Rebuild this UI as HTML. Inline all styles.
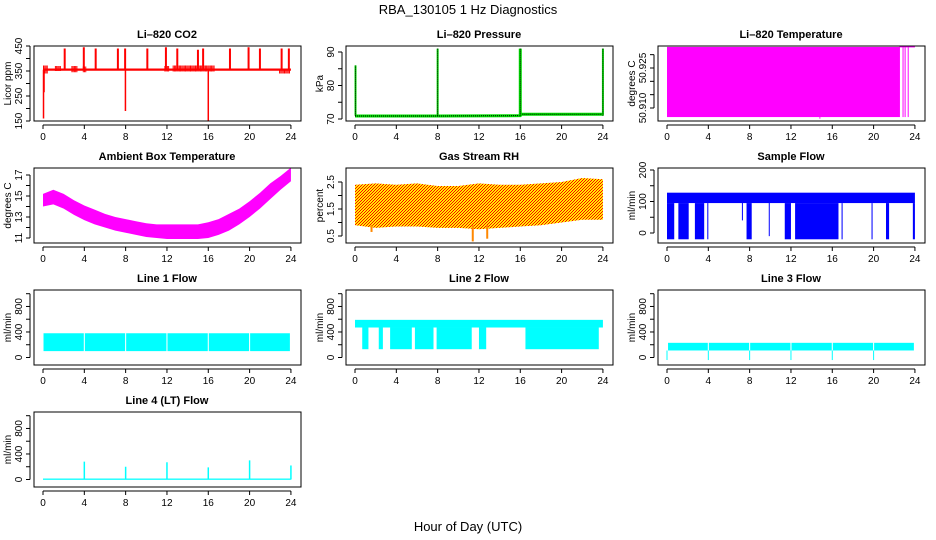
<!DOCTYPE html>
<html><head><meta charset="utf-8"><style>
body{margin:0;background:#fff}
svg{display:block;font-family:"Liberation Sans",Arial,sans-serif}
</style></head><body>
<svg id="chart" width="936" height="540" viewBox="0 0 936 540">
<defs>
<pattern id="rhpat" width="3" height="3" patternUnits="userSpaceOnUse">
<rect width="3" height="3" fill="#ffee00"/>
<rect x="0" y="0" width="1" height="1" fill="#ff0000"/>
<rect x="2" y="1" width="1" height="1" fill="#ff0000"/>
<rect x="1" y="2" width="1" height="1" fill="#ff0000"/>
</pattern>
</defs>
<text x="468" y="14" text-anchor="middle" font-size="13">RBA_130105  1 Hz Diagnostics</text>
<text x="468" y="531" text-anchor="middle" font-size="13">Hour of Day (UTC)</text>
</svg>
<script>
// ---- data arrays ----
const hourTicks = [0,4,8,12,16,20,24];
const co2Base = [351,360];
const co2UpSpikes = [2.1,3.95,5.1,7.25,7.95,10.1,11.9,13.0,15.0,15.5,18.1,19.9,21.0,23.1,23.8];
const co2UpVals = [440,445,440,440,440,440,445,440,435,440,440,445,440,440,440];
const co2DownSpikes = [0.05,0.1,7.98,16.0];
const co2DownVals = [160,265,190,150];
const co2Busy = [[0.05,0.5,340,372],[1.2,1.8,350,370],[2.8,3.4,345,370],[3.9,4.2,345,368],[11.8,12.2,348,370],[12.6,16.6,348,372],[22.9,23.9,340,358]];
const presBaseH = [0,8,16,16.1,24];
const presBaseV = [70.9,70.9,71.0,71.4,71.4];
const presSpikeH = [0.05,8.0,16.0,24.0];
const presSpikeV = [86,91,91,91];
const tempFill = [0,22.55,50.9066,50.9329];
const tempLines = [22.85,23.05,23.35];
const ambH = [0,1,2,3,4,5,6,7,8,9,10,11,12,13,14,15,16,17,18,19,20,21,22,23,24];
const ambLo = [14.0,14.2,13.8,13.2,12.7,12.3,12.0,11.7,11.5,11.3,11.1,11.0,10.9,10.9,10.9,10.9,11.0,11.3,11.7,12.3,13.0,13.8,14.7,15.6,16.4];
const ambHi = [15.2,15.6,15.2,14.6,14.1,13.7,13.3,13.0,12.8,12.6,12.4,12.3,12.3,12.3,12.3,12.3,12.5,12.8,13.3,13.8,14.5,15.3,16.2,16.9,17.7];
const rhH = [0,2,4,6,8,10,12,14,16,18,20,22,24];
const rhLo = [0.9,0.8,0.85,0.85,0.8,0.8,0.75,0.8,0.85,0.9,1.0,1.1,1.1];
const rhHi = [2.4,2.45,2.4,2.45,2.35,2.35,2.45,2.4,2.4,2.45,2.5,2.65,2.6];
const rhDips = [[11.4,0.3],[12.8,0.4],[1.6,0.65]];
const sfBand = [95,128];
const sfDrops = [[0,0.7],[1.1,2.1],[2.7,3.6],[3.9,4.0],[7.7,8.2],[11.4,12.0],[12.4,16.6],[16.9,17.0],[19.8,19.9],[21.2,21.5],[23.8,24]];
const l1Segs = [[0.05,3.95],[4.05,7.95],[8.05,11.95],[12.05,15.95],[16.05,19.95],[20.05,23.9]];
const l1Range = [100,380];
const l2Top = [0,24,470,590];
const l2Lower = [[0.7,1.3],[2.3,2.7],[3.4,5.5],[5.8,7.6],[7.9,11.3],[12.0,12.7],[16.5,23.6]];
const l2LowVal = 130;
const l3Segs = [[0.1,3.95],[4.05,7.95],[8.05,11.95],[12.05,15.95],[16.05,19.95],[20.05,23.9]];
const l3Range = [110,230];
const l3Spikes = [0,4,8,12,16,20];
const l4SpikeH = [4.0,8.0,12.0,16.0,20.0,24.0];
const l4SpikeV = [280,200,270,190,300,220];

const svg = document.getElementById('chart');
const NS = 'http://www.w3.org/2000/svg';
function mk(tag, attrs, parent){const e=document.createElementNS(NS,tag);for(const k in attrs)e.setAttribute(k,attrs[k]);(parent||svg).appendChild(e);return e;}

function panel(col,row,title,ylab,yticks,ylabels,ymap,name){
  const x0=col*312, top=46+row*122, bot=121+row*122;
  const g=mk('g',{});
  
  
  const xs=h=>x0+43+h*10.33;
  const ys=v=>row*122+ymap(v);
  const t=mk('text',{x:x0+167,y:top-8,'text-anchor':'middle','font-size':'11','font-weight':'bold'},g);
  t.textContent=title;
  
  
  const plot=mk('g',{},g);
  
  
  const box=mk('rect',{x:x0+34,y:top,width:267,height:bot-top,fill:'none',stroke:'#000','stroke-width':1},g);
  
  
  const xa=mk('g',{},g);
  
  
  mk('line',{x1:xs(0),x2:xs(24),y1:bot+4,y2:bot+4,stroke:'#000'},xa);
  hourTicks.forEach(h=>{mk('line',{x1:xs(h),x2:xs(h),y1:bot+4,y2:bot+8,stroke:'#000'},xa);
    const l=mk('text',{x:xs(h),y:bot+19,'text-anchor':'middle','font-size':'10'},xa);l.textContent=h;});
  const ya=mk('g',{},g);
  
  
  mk('line',{x1:x0+30,x2:x0+30,y1:ys(yticks[0]),y2:ys(yticks[yticks.length-1]),stroke:'#000'},ya);
  yticks.forEach(v=>mk('line',{x1:x0+26,x2:x0+30,y1:ys(v),y2:ys(v),stroke:'#000'},ya));
  ylabels.forEach(v=>{const y=ys(parseFloat(v));const l=mk('text',{x:x0+22,y:y,'text-anchor':'middle','font-size':'10',transform:`rotate(-90 ${x0+22} ${y})`},ya);l.textContent=v;});
  const yl=mk('text',{x:x0+11,y:(top+bot)/2,'text-anchor':'middle','font-size':'10',transform:`rotate(-90 ${x0+11} ${(top+bot)/2})`},g);
  yl.textContent=ylab;
  
  
  return {g:plot,xs,ys};
}
function rectV(p,h1,h2,v1,v2,fill){const y1=p.ys(v1),y2=p.ys(v2);return mk('rect',{x:p.xs(h1),y:Math.min(y1,y2),width:Math.max(1,p.xs(h2)-p.xs(h1)),height:Math.max(1,Math.abs(y2-y1)),fill:fill},p.g);}
function vline(p,h,v1,v2,col,w){return mk('line',{x1:p.xs(h),x2:p.xs(h),y1:p.ys(v1),y2:p.ys(v2),stroke:col,'stroke-width':w||1},p.g);}
function band(p,H,L,U,fill){let pts=H.map((h,i)=>p.xs(h)+','+p.ys(U[i]));for(let i=H.length-1;i>=0;i--)pts.push(p.xs(H[i])+','+p.ys(L[i]));return mk('polygon',{points:pts.join(' '),fill:fill},p.g);}

// CO2
let p=panel(0,0,'Li\u2013820 CO2','Licor ppm',[150,200,250,300,350,400,450],['150','250','350','450'],v=>121-(v-150)*0.25,'co2');
rectV(p,0,24,co2Base[0],co2Base[1],'#ff0000');
co2Busy.forEach(b=>{for(let h=b[0];h<b[1];h+=0.12){vline(p,h,b[2],b[3],'#ff0000',1);}});
co2UpSpikes.forEach((h,i)=>vline(p,h,355,co2UpVals[i],'#ff0000',2));
co2DownSpikes.forEach((h,i)=>vline(p,h,355,co2DownVals[i],'#ff0000',1.5));
// Pressure
p=panel(1,0,'Li\u2013820 Pressure','kPa',[70,75,80,85,90],['70','80','90'],v=>119-(v-70)*3.35,'pressure');
let pp=presBaseH.map((h,i)=>p.xs(h)+','+p.ys(presBaseV[i])).join(' ');
mk('polyline',{points:pp,fill:'none',stroke:'#00dd00','stroke-width':3},p.g);
mk('polyline',{points:pp,fill:'none',stroke:'#000','stroke-width':1,'stroke-dasharray':'1,1'},p.g);
presSpikeH.forEach((h,i)=>{vline(p,h,71,presSpikeV[i],'#00dd00',i==2?3:2);vline(p,h,71,presSpikeV[i],'#000',1).setAttribute('stroke-dasharray','1,1');});
// Li temp
p=panel(2,0,'Li\u2013820 Temperature','degrees C',[50.91,50.915,50.92,50.925,50.93],['50.910','50.925'],v=>108-(v-50.910)*2667,'li820-temp');
rectV(p,tempFill[0],tempFill[1],tempFill[2],tempFill[3],'#ff00ff');
tempLines.forEach(h=>vline(p,h,tempFill[2],tempFill[3],'#ff00ff',1));
vline(p,14.8,tempFill[2],50.906,'#ff00ff',1);
mk('line',{x1:p.xs(22.5),x2:p.xs(24),y1:p.ys(tempFill[3]),y2:p.ys(tempFill[3]),stroke:'#ff00ff'},p.g);
// Ambient
p=panel(0,1,'Ambient Box Temperature','degrees C',[11,12,13,14,15,16,17],['11','13','15','17'],v=>116-(v-11)*10.5,'ambient-temp');
band(p,ambH,ambLo,ambHi,'#ff00ff');
// RH
p=panel(1,1,'Gas Stream RH','percent',[0.5,1,1.5,2,2.5],['0.5','1.5','2.5'],v=>114-(v-0.5)*27,'gas-rh');
band(p,rhH,rhLo,rhHi,'url(#rhpat)');
rhDips.forEach(d=>vline(p,d[0],0.9,d[1],'#ff8800',2));
// Sample flow
p=panel(2,1,'Sample Flow','ml/min',[0,50,100,150,200],['0','100','200'],v=>111-v*0.315,'sample-flow');
rectV(p,0,24,sfBand[0],sfBand[1],'#0000ff');
sfDrops.forEach(d=>rectV(p,d[0],d[1],-20,sfBand[0],'#0000ff'));
vline(p,7.3,40,100,'#0000ff',1);vline(p,9.9,-10,100,'#0000ff',1);
const fmap=v=>113.5-v*0.0638;
const fticks=[0,200,400,600,800,1000], flab=['0','400','800'];
// Line 1
p=panel(0,2,'Line 1 Flow','ml/min',fticks,flab,fmap,'line1-flow');
l1Segs.forEach(s=>rectV(p,s[0],s[1],l1Range[0],l1Range[1],'#00ffff'));
// Line 2
p=panel(1,2,'Line 2 Flow','ml/min',fticks,flab,fmap,'line2-flow');
rectV(p,l2Top[0],l2Top[1],l2Top[2],l2Top[3],'#00ffff');
l2Lower.forEach(s=>rectV(p,s[0],s[1],l2LowVal,l2Top[2],'#00ffff'));
// Line 3
p=panel(2,2,'Line 3 Flow','ml/min',fticks,flab,fmap,'line3-flow');
l3Segs.forEach(s=>rectV(p,s[0],s[1],l3Range[0],l3Range[1],'#00ffff'));
l3Spikes.forEach(h=>vline(p,h,110,-40,'#00ffff',1));
// Line 4
p=panel(0,3,'Line 4 (LT) Flow','ml/min',fticks,flab,fmap,'line4-flow');
rectV(p,0,24,-5,15,'#00ffff');
l4SpikeH.forEach((h,i)=>vline(p,h,0,l4SpikeV[i],'#00ffff',1.5));
</script>
</body></html>
